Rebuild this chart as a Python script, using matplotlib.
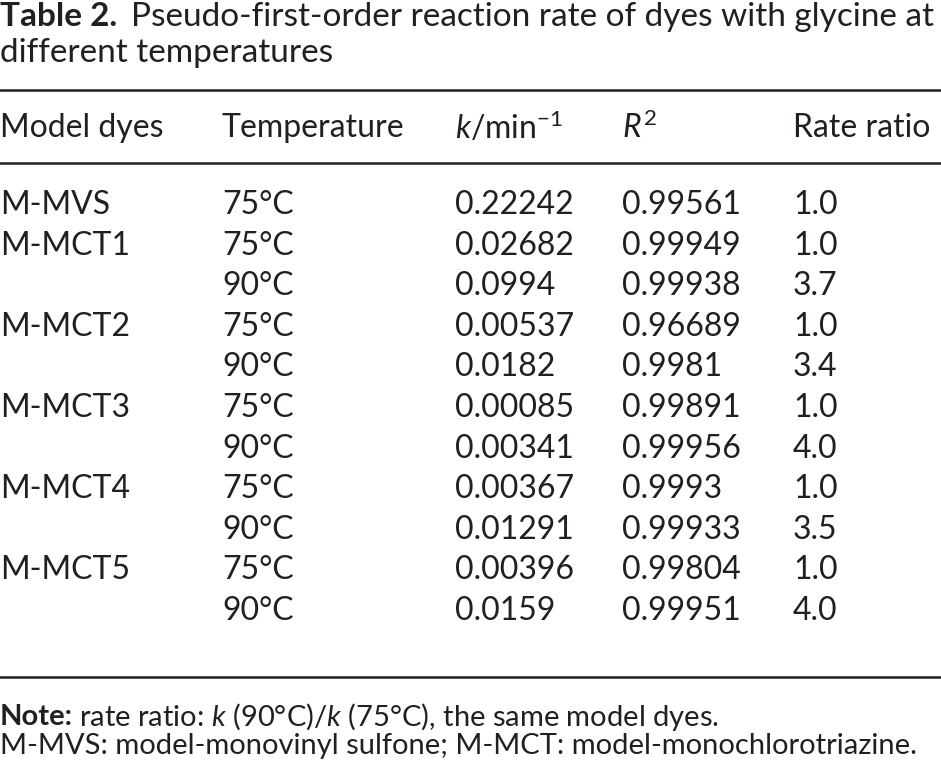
import matplotlib
matplotlib.use("Agg")
import matplotlib.pyplot as plt

plt.rcParams['font.family'] = ['Lato', 'DejaVu Sans']
plt.rcParams['mathtext.fontset'] = 'custom'
plt.rcParams['mathtext.rm'] = 'Lato'
plt.rcParams['mathtext.it'] = 'Lato:italic'
plt.rcParams['mathtext.bf'] = 'Lato:bold'

# table content
headers = ["Model dyes", "Temperature", r"$\it{k}$/min$^{-1}$", r"$\it{R}^{2}$", "Rate ratio"]
dyes = ["M-MVS", "M-MCT1", "", "M-MCT2", "", "M-MCT3", "", "M-MCT4", "", "M-MCT5", ""]
temps = ["75°C", "75°C", "90°C", "75°C", "90°C", "75°C", "90°C", "75°C", "90°C", "75°C", "90°C"]
k_vals = ["0.22242", "0.02682", "0.0994", "0.00537", "0.0182", "0.00085",
          "0.00341", "0.00367", "0.01291", "0.00396", "0.0159"]
r2_vals = ["0.99561", "0.99949", "0.99938", "0.96689", "0.9981", "0.99891",
           "0.99956", "0.9993", "0.99933", "0.99804", "0.99951"]
ratios = ["1.0", "1.0", "3.7", "1.0", "3.4", "1.0", "4.0", "1.0", "3.5", "1.0", "4.0"]

title_bold = "Table 2."
title1 = "Pseudo-first-order reaction rate of dyes with glycine at"
title2 = "different temperatures"
note_bold = "Note:"
note1 = r"rate ratio: $\it{k}$ (90°C)/$\it{k}$ (75°C), the same model dyes."
note2 = "M-MVS: model-monovinyl sulfone; M-MCT: model-monochlorotriazine."

W, H = 941, 770
fig = plt.figure(figsize=(W / 100, H / 100), dpi=100)
ax = fig.add_axes([0, 0, 1, 1])
ax.set_xlim(0, W)
ax.set_ylim(H, 0)
ax.axis('off')

ink = '#231f20'
fs = 23
tfs = 24
col_x = [0, 222, 455, 622, 793]

# title with a bold lead-in, rest placed right after it
fig.canvas.draw()
renderer = fig.canvas.get_renderer()
inv = ax.transData.inverted()

t = ax.text(0, 17, title_bold, fontsize=tfs, color=ink, va='center', ha='left', weight='bold')
bb = t.get_window_extent(renderer)
x_end = inv.transform((bb.x1, bb.y0))[0]
ax.text(x_end + 14, 17, title1, fontsize=tfs, color=ink, va='center', ha='left')
ax.text(0, 53, title2, fontsize=tfs, color=ink, va='center', ha='left')

ax.axhline(90, color=ink, lw=1.8)
ax.axhline(163, color=ink, lw=1.8)
ax.axhline(677, color=ink, lw=1.8)

for x, h in zip(col_x, headers):
    ax.text(x, 128, h, fontsize=fs, color=ink, va='center', ha='left')

row_y0, row_dy = 205, 40.6
for i, row in enumerate(zip(dyes, temps, k_vals, r2_vals, ratios)):
    y = row_y0 + i * row_dy
    for x, val in zip(col_x, row):
        ax.text(x, y, val, fontsize=fs, color=ink, va='center', ha='left')

nfs = 21
t = ax.text(0, 717, note_bold, fontsize=nfs, color=ink, va='center', ha='left', weight='bold')
bb = t.get_window_extent(renderer)
x_end = inv.transform((bb.x1, bb.y0))[0]
ax.text(x_end + 6, 717, note1, fontsize=nfs, color=ink, va='center', ha='left')
ax.text(0, 746, note2, fontsize=nfs, color=ink, va='center', ha='left')

fig.savefig("out.png", dpi=100)
